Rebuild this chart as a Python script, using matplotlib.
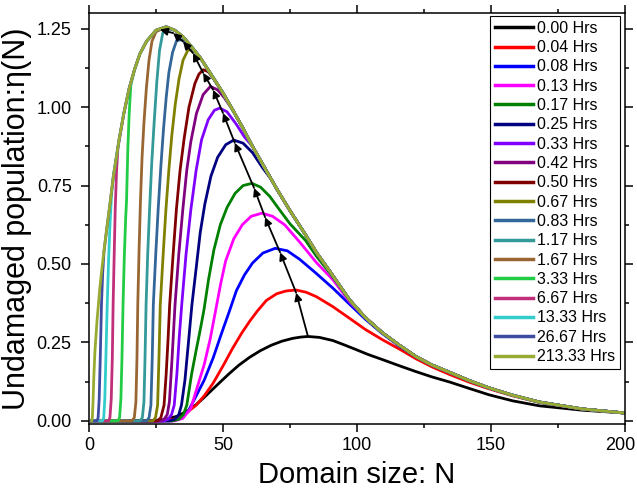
import matplotlib
matplotlib.use('Agg')
import matplotlib.pyplot as plt
from matplotlib.ticker import MultipleLocator, FormatStrFormatter
from matplotlib.transforms import ScaledTranslation

plt.rcParams['font.family'] = ['Liberation Sans', 'DejaVu Sans']

# ---------------- data ----------------
labels = ['0.00 Hrs', '0.04 Hrs', '0.08 Hrs', '0.13 Hrs', '0.17 Hrs', '0.25 Hrs',
          '0.33 Hrs', '0.42 Hrs', '0.50 Hrs', '0.67 Hrs', '0.83 Hrs', '1.17 Hrs',
          '1.67 Hrs', '3.33 Hrs', '6.67 Hrs', '13.33 Hrs', '26.67 Hrs', '213.33 Hrs']
colors = ['#000000', '#ff0000', '#0000ff', '#ff00ff', '#008000', '#000080',
          '#8000ff', '#800080', '#800000', '#808000', '#336699', '#339999',
          '#996633', '#22cc44', '#c0307a', '#33cccc', '#3d4ba0', '#99aa33']

# 213.33 Hrs (upper envelope)
N_21333 = [1.0, 1.25, 1.5, 1.8, 2.2, 3.0, 4.0, 5.0, 6.3, 7.8, 9.1, 11.3, 13.0, 15.0, 17.0,
           19.0, 21.5, 25.0, 28.8, 32.0, 35.0, 38.0, 41.3, 44.0, 47.0, 50.0, 53.7, 57.0,
           61.0, 65.0, 70.0, 75.0, 80.8, 85.0, 90.0, 97.2, 103.0, 109.6, 116.0, 122.0,
           128.0, 134.5, 142.0, 149.3, 158.0, 168.0, 184.0, 200.0]
E_21333 = [0.0, 0.01, 0.06, 0.14, 0.22, 0.32, 0.42, 0.50, 0.59, 0.69, 0.78, 0.90, 0.98, 1.06,
           1.12, 1.17, 1.21, 1.245, 1.256, 1.245, 1.225, 1.195, 1.16, 1.125, 1.085, 1.045,
           0.99, 0.94, 0.875, 0.815, 0.74, 0.67, 0.593, 0.535, 0.475, 0.386, 0.33, 0.28,
           0.24, 0.205, 0.178, 0.155, 0.128, 0.105, 0.082, 0.060, 0.038, 0.025]

# rising parts of the later curves (they lie on the envelope afterwards)
N_2667 = [1.0, 3.0, 3.4, 3.8, 4.2, 4.65, 5.1, 5.6]
E_2667 = [0.0, 0.0, 0.01, 0.07, 0.2, 0.37, 0.47, 0.54]
N_1333 = [1.0, 5.0, 5.5, 5.9, 6.3, 6.8, 7.3, 7.8, 8.4]
E_1333 = [0.0, 0.0, 0.01, 0.07, 0.2, 0.37, 0.51, 0.62, 0.72]
N_667 = [1.0, 7.3, 7.8, 8.3, 8.7, 9.0, 9.4, 9.8, 10.3, 10.8]
E_667 = [0.0, 0.0, 0.01, 0.07, 0.2, 0.37, 0.53, 0.68, 0.80, 0.87]
N_333 = [1.0, 10.8, 11.4, 11.9, 12.3, 12.7, 13.2, 13.7, 14.0, 14.5, 15.0, 15.6]
E_333 = [0.0, 0.0, 0.01, 0.07, 0.2, 0.37, 0.53, 0.65, 0.70, 0.87, 0.98, 1.07]
N_167 = [1.0, 16.0, 16.9, 17.5, 17.9, 18.2, 18.7, 19.2, 19.8, 20.5, 21.4, 22.4, 23.5, 25.0]
E_167 = [0.0, 0.0, 0.01, 0.06, 0.2, 0.37, 0.55, 0.70, 0.84, 0.95, 1.06, 1.15, 1.21, 1.24]
N_117 = [1.0, 19.0, 19.9, 20.5, 20.9, 21.3, 21.9, 22.6, 23.4, 24.3, 25.3, 26.3, 27.5, 28.8]
E_117 = [0.0, 0.0, 0.01, 0.06, 0.2, 0.37, 0.53, 0.673, 0.82, 0.95, 1.08, 1.18, 1.235, 1.25]
N_083 = [1.0, 21.5, 22.4, 23.1, 23.6, 24.0, 24.9, 25.8, 26.8, 27.8, 28.8, 29.8, 31.2, 32.7,
         34.5, 36.5, 38.5]
E_083 = [0.0, 0.0, 0.01, 0.05, 0.2, 0.37, 0.53, 0.673, 0.81, 0.93, 1.03, 1.11, 1.175, 1.212,
         1.215, 1.205, 1.19]
N_067 = [1.0, 23.8, 24.8, 25.6, 26.1, 26.6, 27.6, 28.7, 29.8, 30.9, 32.2, 33.6, 35.1, 37.0,
         39.0, 41.3]
E_067 = [0.0, 0.0, 0.01, 0.05, 0.2, 0.37, 0.52, 0.673, 0.80, 0.91, 1.01, 1.09, 1.15, 1.183,
         1.18, 1.16]
N_050 = [1.0, 25.5, 26.8, 28.0, 28.8, 29.5, 30.1, 31.3, 32.6, 34.0, 35.5, 37.3, 39.5, 41.0,
         42.6, 44.5, 46.5]
E_050 = [0.0, 0.0, 0.01, 0.05, 0.15, 0.26, 0.37, 0.52, 0.673, 0.80, 0.90, 1.00, 1.075, 1.105,
         1.119, 1.113, 1.09]
N_042 = [1.0, 26.5, 28.0, 29.2, 30.0, 31.0, 32.1, 33.5, 35.0, 36.5, 38.0, 40.1, 42.6, 45.3,
         48.0, 50.5]
E_042 = [0.0, 0.0, 0.005, 0.02, 0.06, 0.2, 0.37, 0.53, 0.673, 0.80, 0.89, 0.98, 1.04, 1.066,
         1.055, 1.03]
N_033 = [1.0, 28.0, 29.5, 30.8, 31.8, 32.8, 33.7, 34.6, 36.2, 38.0, 40.0, 42.0, 44.5, 46.8,
         48.8, 51.5, 55.0, 58.0]
E_033 = [0.0, 0.0, 0.005, 0.02, 0.05, 0.15, 0.27, 0.37, 0.53, 0.673, 0.80, 0.896, 0.96, 0.99,
         0.997, 0.985, 0.945, 0.905]
N_025 = [1.0, 30.0, 32.0, 33.5, 34.5, 35.8, 37.0, 38.4, 39.9, 41.5, 43.2, 45.5, 48.0, 51.0,
         54.0, 57.5, 61.0, 64.5, 68.4]
E_025 = [0.0, 0.0, 0.005, 0.02, 0.05, 0.13, 0.24, 0.37, 0.48, 0.60, 0.69, 0.78, 0.84, 0.88,
         0.895, 0.885, 0.855, 0.81, 0.765]
N_017 = [1.0, 31.0, 33.5, 35.2, 36.5, 38.3, 40.1, 41.5, 42.9, 44.6, 46.6, 49.0, 51.5, 54.5,
         57.5, 60.8, 64.0, 67.5, 70.9, 75.0, 80.8, 85.0, 90.0]
E_017 = [0.0, 0.0, 0.005, 0.02, 0.05, 0.15, 0.23, 0.29, 0.354, 0.45, 0.545, 0.625, 0.68, 0.725,
         0.75, 0.757, 0.745, 0.715, 0.675, 0.628, 0.575, 0.523, 0.47]
N_013 = [1.0, 32.0, 35.0, 38.0, 40.5, 43.0, 45.2, 47.3, 49.2, 51.0, 54.0, 57.2, 60.5, 64.5,
         68.5, 73.0, 78.6, 84.8, 91.0, 97.2]
E_013 = [0.0, 0.0, 0.008, 0.04, 0.11, 0.18, 0.26, 0.354, 0.44, 0.51, 0.58, 0.625, 0.652, 0.662,
         0.652, 0.625, 0.57, 0.505, 0.45, 0.38]
N_008 = [1.0, 31.0, 34.0, 37.0, 40.0, 43.0, 46.3, 49.5, 52.4, 55.0, 58.0, 61.0, 64.9, 69.5,
         74.0, 78.6, 84.8, 91.0, 97.2, 103.0, 109.6, 116.0]
E_008 = [0.0, 0.0, 0.008, 0.03, 0.08, 0.13, 0.2, 0.28, 0.35, 0.415, 0.465, 0.503, 0.535, 0.55,
         0.542, 0.515, 0.47, 0.423, 0.372, 0.325, 0.277, 0.237]
N_004 = [1.0, 28.0, 33.9, 40.0, 43.0, 46.3, 50.0, 53.5, 57.0, 60.0, 62.8, 66.2, 70.0, 73.5,
         77.3, 81.0, 84.8, 91.0, 97.2, 103.0, 109.6, 116.0, 122.0, 128.0, 134.5, 142.0,
         149.3, 158.0, 168.0, 184.0, 200.0]
E_004 = [0.0, 0.0, 0.009, 0.05, 0.08, 0.12, 0.175, 0.23, 0.28, 0.318, 0.35, 0.384, 0.405,
         0.414, 0.417, 0.41, 0.396, 0.364, 0.327, 0.292, 0.258, 0.228, 0.198, 0.172, 0.148,
         0.123, 0.102, 0.08, 0.059, 0.037, 0.025]
N_000 = [1.0, 22.0, 27.7, 33.0, 37.0, 40.0, 43.0, 46.3, 49.5, 52.5, 56.0, 60.0, 64.0, 68.0,
         72.0, 76.0, 79.0, 81.7, 86.0, 91.0, 95.0, 99.7, 104.0, 109.6, 116.0, 122.0, 128.0,
         134.5, 142.0, 149.3, 158.0, 168.0, 184.0, 200.0]
E_000 = [0.0, 0.0, 0.003, 0.015, 0.033, 0.052, 0.075, 0.102, 0.128, 0.152, 0.178, 0.203,
         0.224, 0.241, 0.254, 0.263, 0.267, 0.269, 0.266, 0.256, 0.243, 0.227, 0.212, 0.195,
         0.175, 0.157, 0.14, 0.124, 0.103, 0.083, 0.064, 0.048, 0.034, 0.025]

# path of the arrows joining the maxima (from 0.00 Hrs upwards)
arrow_N = [81.7, 77.3, 71.3, 65.7, 61.6, 54.4, 50.0, 46.3, 42.6, 38.8, 35.1, 31.4, 26.5]
arrow_E = [0.269, 0.408, 0.537, 0.649, 0.742, 0.886, 0.981, 1.055, 1.109, 1.172, 1.209,
           1.236, 1.247]

x_ticks = [0, 50, 100, 150, 200]
y_ticks = [0.00, 0.25, 0.50, 0.75, 1.00, 1.25]


def with_envelope(n, e):
    """A curve that lies on the envelope after its last own point."""
    xs = list(n) + [v for v in N_21333 if v > n[-1] + 0.5]
    ys = list(e) + [w for v, w in zip(N_21333, E_21333) if v > n[-1] + 0.5]
    return xs, ys


curves = [
    (N_000, E_000), (N_004, E_004),
    with_envelope(N_008, E_008), with_envelope(N_013, E_013), with_envelope(N_017, E_017),
    with_envelope(N_025, E_025), with_envelope(N_033, E_033), with_envelope(N_042, E_042),
    with_envelope(N_050, E_050), with_envelope(N_067, E_067), with_envelope(N_083, E_083),
    with_envelope(N_117, E_117), with_envelope(N_167, E_167), with_envelope(N_333, E_333),
    with_envelope(N_667, E_667), with_envelope(N_1333, E_1333), with_envelope(N_2667, E_2667),
    (N_21333, E_21333),
]

# ---------------- figure ----------------
fig = plt.figure(figsize=(6.37, 4.91), dpi=100)
ax = fig.add_axes([89 / 637, 1 - 424 / 491, (625 - 89) / 637, (424 - 13) / 491])

for (xs, ys), lab, col in zip(curves, labels, colors):
    ax.plot(xs, ys, color=col, lw=2.0, label=lab, solid_joinstyle='round')

for i in range(len(arrow_N) - 1):
    ax.annotate('', xy=(arrow_N[i + 1], arrow_E[i + 1]), xytext=(arrow_N[i], arrow_E[i]),
                arrowprops=dict(arrowstyle='-|>', color='black', lw=1.3,
                                mutation_scale=11, shrinkA=0, shrinkB=0))

ax.set_xlim(0, 200)
ax.set_ylim(-0.01, 1.30)
ax.set_xticks(x_ticks)
ax.set_yticks(y_ticks)
ax.xaxis.set_minor_locator(MultipleLocator(25))
ax.yaxis.set_minor_locator(MultipleLocator(0.125))
ax.yaxis.set_major_formatter(FormatStrFormatter('%.2f'))
ax.tick_params(which='both', direction='out', top=True, right=True, width=1.1,
               labelsize=13, colors='black')
ax.tick_params(which='major', length=5.5, pad=4)
ax.tick_params(axis='y', which='major', pad=7)
ax.tick_params(which='minor', length=3)
for s in ax.spines.values():
    s.set_linewidth(1.1)

# keep the last x tick label inside the canvas
fig.canvas.draw()
last = ax.get_xticklabels()[-1]
last.set_transform(last.get_transform() + ScaledTranslation(-5 / 100, 0, fig.dpi_scale_trans))

ax.set_xlabel('Domain size: N', fontsize=21, labelpad=5)
ax.set_ylabel('Undamaged population:\u03b7(N)', fontsize=22, labelpad=3)

leg = ax.legend(loc='upper right', bbox_to_anchor=(0.9907, 0.9927), borderaxespad=0,
                fontsize=11.5, handlelength=2.4, handletextpad=0.25, labelspacing=0.27,
                frameon=True, fancybox=False, edgecolor='black', framealpha=1,
                borderpad=0.3)
leg.get_frame().set_linewidth(0.8)
for line in leg.get_lines():
    line.set_linewidth(2.5)

fig.savefig('out.png', dpi=100)
